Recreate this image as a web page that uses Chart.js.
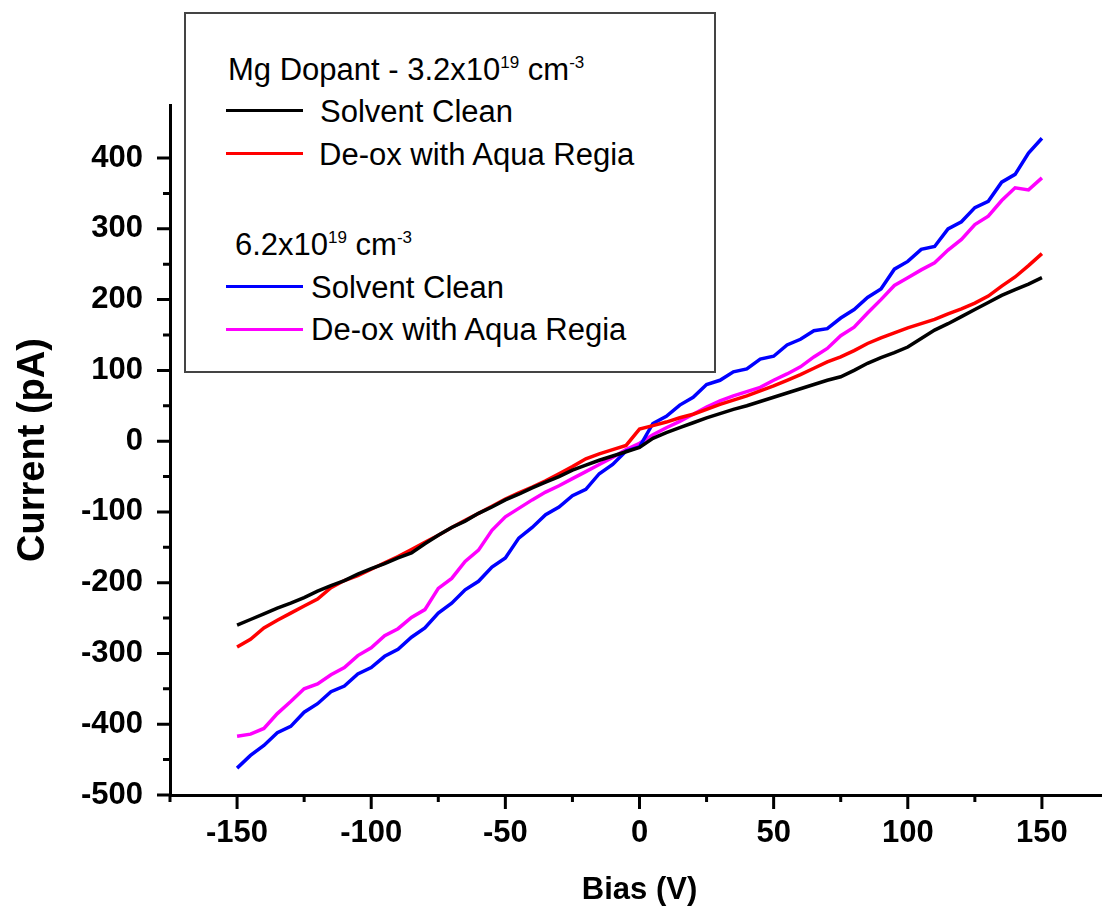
<!DOCTYPE html>
<html>
<head>
<meta charset="utf-8">
<script src="https://cdn.jsdelivr.net/npm/chart.js@4/dist/chart.umd.min.js"></script>
<style>
  html, body { margin: 0; padding: 0; overflow: hidden; background: #fff; }
  #wrap { position: relative; width: 1102px; height: 919px; overflow: hidden; }
  #chart { position: absolute; left: 0; top: 0; }
  .lg { position: absolute; font: 31px 'Liberation Sans', Arial, sans-serif; line-height: 31px; color: #000; white-space: nowrap; }
  .lg sup { font-size: 17px; line-height: 0; vertical-align: 12px; }
  .key { position: absolute; width: 77px; height: 3px; }
  #box { position: absolute; left: 184px; top: 12px; width: 528px; height: 357px; border: 2px solid #444; background: #fff; }
</style>
</head>
<body>
<div id="wrap">
  <canvas id="chart" width="1116" height="919"></canvas>
  <div id="box"></div>
  <div class="lg" style="left:228px; top:54px;">Mg Dopant - 3.2x10<sup>19</sup> cm<sup>-3</sup></div>
  <div class="key" style="left:226px; top:109px; background:#000;"></div>
  <div class="lg" style="left:320px; top:96px;">Solvent Clean</div>
  <div class="key" style="left:226px; top:152px; background:#ff0000;"></div>
  <div class="lg" style="left:319px; top:139px;">De-ox with Aqua Regia</div>
  <div class="lg" style="left:235px; top:229px;">6.2x10<sup>19</sup> cm<sup>-3</sup></div>
  <div class="key" style="left:226px; top:285px; background:#0000ff;"></div>
  <div class="lg" style="left:311px; top:272px;">Solvent Clean</div>
  <div class="key" style="left:226px; top:328px; background:#ff00ff;"></div>
  <div class="lg" style="left:311px; top:314px;">De-ox with Aqua Regia</div>
</div>
<script>
// bias in V
const bias = [-150, -145, -140, -135, -130, -125, -120, -115, -110, -105, -100, -95, -90, -85, -80, -75, -70, -65, -60, -55, -50,
  -45, -40, -35, -30, -25, -20, -15, -10, -5, 0, 5, 10, 15, 20, 25, 30, 35, 40, 45, 50,
  55, 60, 65, 70, 75, 80, 85, 90, 95, 100, 105, 110, 115, 120, 125, 130, 135, 140, 145, 150];

// current in pA
const solvent32 = [-260, -252, -244, -236, -229, -221, -212, -204, -197, -188, -180, -173, -165, -158, -145, -133, -122, -113, -102, -93, -83,
  -75, -66, -58, -50, -41, -34, -27, -21, -15, -9, 4, 12, 19, 26, 33, 39, 45, 50, 56, 62,
  68, 74, 80, 86, 91, 100, 110, 118, 125, 133, 145, 157, 166, 176, 186, 196, 206, 214, 222, 231];
const deox32 = [-291, -280, -264, -253, -243, -233, -223, -207, -197, -190, -181, -172, -163, -153, -143, -133, -122, -112, -102, -92, -82,
  -73, -65, -56, -46, -36, -25, -18, -12, -6, 17, 22, 27, 33, 38, 45, 52, 58, 64, 71, 78,
  86, 94, 103, 112, 119, 128, 138, 146, 153, 160, 166, 172, 180, 187, 195, 205, 219, 232, 248, 265];
const solvent62 = [-462, -444, -430, -412, -403, -383, -371, -354, -346, -329, -320, -304, -294, -277, -264, -243, -229, -210, -198, -178, -165,
  -137, -122, -104, -93, -77, -68, -46, -33, -14, -8, 25, 35, 51, 62, 80, 86, 98, 102, 116, 120,
  136, 144, 156, 159, 174, 186, 203, 215, 243, 254, 271, 275, 300, 310, 330, 339, 366, 377, 407, 428];
const deox62 = [-417, -414, -406, -385, -368, -350, -343, -330, -320, -303, -292, -275, -265, -249, -238, -208, -194, -170, -154, -126, -107,
  -95, -83, -72, -63, -53, -43, -33, -23, -12, -3, 9, 19, 28, 38, 48, 57, 64, 70, 76, 86,
  95, 105, 119, 131, 149, 161, 181, 200, 220, 231, 242, 252, 270, 285, 306, 318, 340, 358, 355, 372];

const seriesNames = ['Solvent Clean 3.2', 'De-ox 3.2', 'Solvent Clean 6.2', 'De-ox 6.2'];
const seriesColors = ['#000000', '#ff0000', '#0000ff', '#ff00ff'];
const seriesValues = [solvent32, deox32, solvent62, deox62];

const tickFont = { family: "'Liberation Sans', Arial, sans-serif", size: 31, weight: 'bold' };

// draws the major / minor tick marks outside the axes
const tickMarks = {
  id: 'tickMarks',
  afterDraw(chart) {
    const ctx = chart.ctx;
    const xs = chart.scales.x, ys = chart.scales.y;
    ctx.save();
    ctx.strokeStyle = '#000';
    ctx.lineWidth = 3;
    ctx.beginPath();
    xs.ticks.forEach(t => {
      const px = xs.getPixelForValue(t.value);
      const len = t.value % 50 === 0 ? 14 : 7;
      ctx.moveTo(px, xs.top);
      ctx.lineTo(px, xs.top + len);
    });
    ys.ticks.forEach(t => {
      if (t.value % 50 !== 0) return;
      const py = ys.getPixelForValue(t.value);
      const len = t.value % 100 === 0 ? 13 : 7;
      ctx.moveTo(ys.right, py);
      ctx.lineTo(ys.right - len, py);
    });
    ctx.stroke();
    ctx.restore();
  }
};

new Chart(document.getElementById('chart'), {
  type: 'line',
  data: {
    labels: bias,
    datasets: seriesValues.map((vals, i) => ({
      label: seriesNames[i],
      data: vals.map((v, j) => ({ x: bias[j], y: v })),
      borderColor: seriesColors[i],
      borderWidth: 3.5,
      pointRadius: 0,
      tension: 0,
      fill: false
    }))
  },
  options: {
    responsive: false,
    animation: false,
    devicePixelRatio: 1,
    layout: { padding: { left: 0, top: 105, right: 5, bottom: 0 } },
    plugins: { legend: { display: false }, tooltip: { enabled: false } },
    scales: {
      x: {
        type: 'linear',
        min: -175,
        max: 175,
        ticks: {
          stepSize: 25,
          color: '#000',
          font: tickFont,
          padding: 7,
          maxRotation: 0,
          autoSkip: false,
          callback: v => (v % 50 === 0 ? v : '')
        },
        grid: { drawOnChartArea: false, drawTicks: true, tickLength: 13, tickColor: 'rgba(0,0,0,0)' },
        border: { color: '#000', width: 3 },
        title: { display: true, text: 'Bias (V)', color: '#000', font: tickFont, padding: { bottom: 10 } },
        afterFit: s => { s.height = 124; }
      },
      y: {
        min: -500,
        max: 475,
        ticks: {
          stepSize: 50,
          color: '#000',
          font: tickFont,
          padding: 14,
          autoSkip: false,
          callback: v => (v % 100 === 0 ? v : '')
        },
        grid: { drawOnChartArea: false, drawTicks: true, tickLength: 13, tickColor: 'rgba(0,0,0,0)' },
        border: { color: '#000', width: 3 },
        title: { display: true, text: 'Current (pA)', color: '#000', font: { ...tickFont, size: 38 }, padding: { top: 11 } },
        afterFit: s => { s.width = 170; }
      }
    }
  },
  plugins: [tickMarks]
});
</script>
</body>
</html>
